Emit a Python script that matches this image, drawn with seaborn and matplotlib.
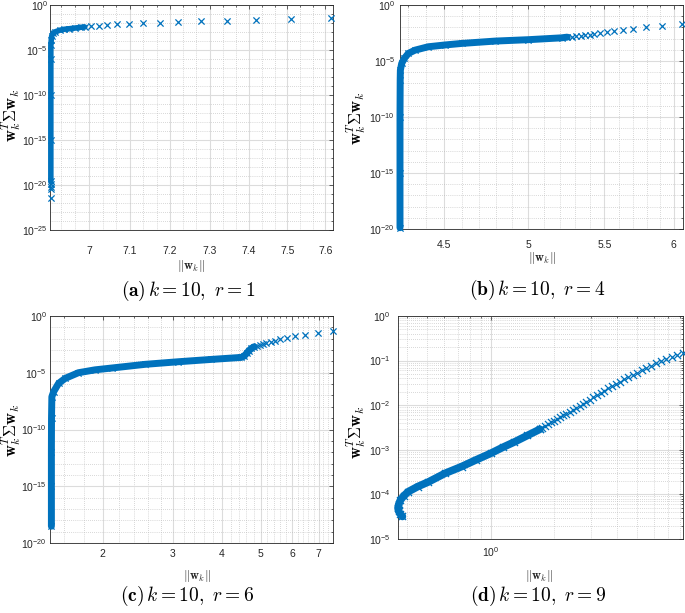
import numpy as np
import pandas as pd
import matplotlib
matplotlib.use("Agg")
import matplotlib.pyplot as plt
import seaborn as sns
from matplotlib.ticker import FixedLocator, FuncFormatter, NullFormatter, FixedFormatter

# ---------------- data ----------------
# panel (a)  k=10, r=1
a_band_x = [6.990, 6.980, 6.966, 6.952, 6.940, 6.929, 6.919, 6.913, 6.910, 6.909, 6.908, 6.908, 6.908, 6.908, 6.908]
a_band_y = [3.6e-3, 3.3e-3, 2.75e-3, 2.3e-3, 2.0e-3, 1.55e-3, 1.07e-3, 7.1e-4, 3.6e-4, 1.3e-4, 3.6e-5, 1e-6, 1e-10, 1e-15, 2.5e-20]
a_pts_x = [7.615, 7.510, 7.420, 7.344, 7.277, 7.221, 7.174, 7.134, 7.099, 7.069, 7.045, 7.024, 7.006,
           6.908, 6.908, 6.908, 6.908]
a_pts_y = [3.3e-2, 2.8e-2, 2.15e-2, 1.8e-2, 1.55e-2, 1.17e-2, 1.0e-2, 9.1e-3, 7.8e-3, 7.1e-3, 6.0e-3, 5.0e-3, 4.3e-3,
           1.3e-20, 6.3e-21, 4.0e-21, 3.2e-22]

# panel (b)  k=10, r=4
b_band_x = [5.25, 5.213, 5.0, 4.796, 4.599, 4.504, 4.410, 4.338, 4.302, 4.280, 4.266, 4.259, 4.258, 4.257, 4.257, 4.257]
b_band_y = [1.35e-3, 1.17e-3, 8.0e-4, 6.0e-4, 3.7e-4, 2.7e-4, 1.86e-4, 9.3e-5, 4.8e-5, 1.7e-5, 6e-6, 1.5e-6, 1.9e-7, 1e-10, 1e-15, 1.3e-20]
b_pts_x = [6.065, 5.911, 5.794, 5.700, 5.629, 5.568, 5.517, 5.471, 5.432, 5.40, 5.37, 5.34, 5.31, 5.28]
b_pts_y = [2.0e-2, 1.4e-2, 1.0e-2, 7.6e-3, 5.75e-3, 4.5e-3, 3.6e-3, 2.95e-3, 2.5e-3, 2.2e-3, 2.0e-3, 1.8e-3, 1.62e-3, 1.48e-3]

# panel (c)  k=10, r=6
c_band_x = [4.815, 4.743, 4.670, 4.608, 4.544, 4.476, 3.76, 3.1, 2.557, 2.107, 1.913, 1.737, 1.61, 1.549, 1.505,
            1.490, 1.487, 1.486, 1.486, 1.486]
c_band_y = [1.95e-3, 1.4e-3, 8.7e-4, 5.0e-4, 2.95e-4, 2.25e-4, 1.5e-4, 9.3e-5, 5.5e-5, 2.6e-5, 1.8e-5, 1.0e-5, 3.2e-6,
            1.15e-6, 2.1e-7, 7.6e-8, 1e-9, 1e-12, 1e-15, 3e-19]
c_pts_x = [7.605, 6.98, 6.485, 6.119, 5.819, 5.598, 5.429, 5.296, 5.174, 5.064, 4.977, 4.891]
c_pts_y = [5.0e-2, 3.4e-2, 2.24e-2, 1.62e-2, 1.15e-2, 8.7e-3, 6.6e-3, 5.4e-3, 4.4e-3, 3.55e-3, 2.95e-3, 2.4e-3]

# panel (d)  k=10, r=9
d_band_x = [1.717, 1.5, 1.3, 1.15, 1.0, 0.85, 0.727, 0.606, 0.505, 0.45, 0.405, 0.386, 0.372, 0.365, 0.362, 0.364, 0.370, 0.380]
d_band_y = [2.88e-3, 2.1e-3, 1.5e-3, 1.15e-3, 8.3e-4, 5.9e-4, 4.2e-4, 2.96e-4, 1.9e-4, 1.5e-4, 1.15e-4, 9.3e-5,
            7.5e-5, 6.0e-5, 5.0e-5, 4.3e-5, 3.7e-5, 3.2e-5]
d_pts_x = [8.265, 7.77, 7.30, 6.887, 6.495, 6.149, 5.821, 5.53, 5.254, 4.992, 4.761, 4.539, 4.329, 4.143, 3.966,
           3.795, 3.632, 3.489, 3.352, 3.220, 3.093, 2.972, 2.864, 2.761, 2.663, 2.567, 2.475, 2.386, 2.300, 2.226,
           2.154, 2.084, 2.017, 1.951, 1.888, 1.827, 1.768, 1.717]
d_pts_y = [0.1507, 0.1340, 0.1192, 0.1067, 0.0957, 0.0861, 0.0760, 0.0678, 0.0604, 0.0535, 0.0476, 0.0424, 0.0378,
           0.0337, 0.0300, 0.0267, 0.0238, 0.0213, 0.0189, 0.0168, 0.0150, 0.0133, 0.0120, 0.0108, 0.00977, 0.00881,
           0.00794, 0.00719, 0.00650, 0.00594, 0.00543, 0.00496, 0.00453, 0.00413, 0.00376, 0.00343, 0.00313, 0.00288]

a_xticks = [7.0, 7.1, 7.2, 7.3, 7.4, 7.5, 7.6]
a_xlabels = ["7", "7.1", "7.2", "7.3", "7.4", "7.5", "7.6"]
b_xticks = [4.5, 5.0, 5.5, 6.0]
b_xlabels = ["4.5", "5", "5.5", "6"]
c_xticks = [2, 3, 4, 5, 6, 7]
c_xlabels = ["2", "3", "4", "5", "6", "7"]
d_xticks = [1.0]
d_xlabels = [r"$\mathdefault{10^{0}}$"]

captions = [r"$\mathbf{(a)}\,k=10,\ r=1$", r"$\mathbf{(b)}\,k=10,\ r=4$",
            r"$\mathbf{(c)}\,k=10,\ r=6$", r"$\mathbf{(d)}\,k=10,\ r=9$"]

# ---------------- style ----------------
sns.set_style("white")
plt.rcParams['font.family'] = ['Liberation Sans', 'DejaVu Sans']
plt.rcParams['mathtext.fontset'] = 'cm'
plt.rcParams['axes.unicode_minus'] = False

BLUE = '#0072BD'
DARK = '#262626'
W, H = 685, 613
fig = plt.figure(figsize=(6.85, 6.13), dpi=100)


def px_axes(l, t, r, b):
    return fig.add_axes([l / W, 1 - b / H, (r - l) / W, (b - t) / H])


def ftext(x, y, s, **kw):
    fig.text(x / W, 1 - y / H, s, **kw)


def sci(v, p):
    return r"$\mathdefault{10^{%d}}$" % int(round(np.log10(v)))


def panel(ax, band_x, band_y, pts_x, pts_y, xlim, ylim, xt, xl, xminor, ymaj, ymin,
          band_lw, msize, xpad, ypad):
    sns.lineplot(x=band_x, y=band_y, sort=False, estimator=None, color=BLUE,
                 linewidth=band_lw, ax=ax, clip_on=False, zorder=3)
    sns.scatterplot(x=band_x + pts_x, y=band_y + pts_y, marker='x', s=msize, color=BLUE,
                    linewidth=0.9, ax=ax, clip_on=False, zorder=4)
    ax.set_xscale('log')
    ax.set_yscale('log')
    ax.set_xlim(*xlim)
    ax.set_ylim(*ylim)
    ax.xaxis.set_major_locator(FixedLocator(xt))
    ax.xaxis.set_major_formatter(FixedFormatter(xl))
    ax.xaxis.set_minor_locator(FixedLocator(xminor))
    ax.xaxis.set_minor_formatter(NullFormatter())
    ax.yaxis.set_major_locator(FixedLocator(ymaj))
    ax.yaxis.set_major_formatter(FuncFormatter(sci))
    ax.yaxis.set_minor_locator(FixedLocator(ymin))
    ax.yaxis.set_minor_formatter(NullFormatter())
    ax.set_axisbelow(True)
    ax.grid(which='major', color='#dcdcdc', linewidth=0.8, linestyle='-')
    ax.grid(which='minor', color='#b4b4b4', linewidth=0.5, linestyle=(0, (1, 2)))
    ax.tick_params(which='both', direction='in', top=True, right=True, color=DARK,
                   width=0.5, labelsize=7.5, labelcolor=DARK)
    ax.tick_params(which='major', length=3)
    ax.tick_params(which='minor', length=1.5)
    ax.tick_params(axis='x', which='both', pad=xpad)
    ax.tick_params(axis='y', which='both', pad=ypad)
    for sp in ax.spines.values():
        sp.set_color(DARK)
        sp.set_linewidth(0.6)
    ax.set_xlabel("")
    ax.set_ylabel("")


decades25 = [10.0 ** e for e in range(-25, 1) if e % 5]
decades20 = [10.0 ** e for e in range(-20, 1) if e % 5]
sub_d = [m * 10.0 ** e for e in range(-5, 0) for m in range(2, 10)]

axA = px_axes(50, 5, 333, 230)
panel(axA, a_band_x, a_band_y, a_pts_x, a_pts_y, (6.906, 7.62), (1e-25, 1),
      a_xticks, a_xlabels, [6.9 + i / 30 for i in range(0, 23)],
      [10.0 ** e for e in range(-25, 1, 5)], decades25, 4, 20, 11.5, 1.5)

axB = px_axes(400, 5, 683, 229)
panel(axB, b_band_x, b_band_y, b_pts_x, b_pts_y, (4.257, 6.07), (1e-20, 1),
      b_xticks, b_xlabels, [4.3 + i * 0.1 for i in range(0, 18)],
      [10.0 ** e for e in range(-20, 1, 5)], decades20, 5, 20, 8, 3.5)

axC = px_axes(50, 316, 333, 543)
panel(axC, c_band_x, c_band_y, c_pts_x, c_pts_y, (1.474, 7.61), (1e-20, 1),
      c_xticks, c_xlabels, [1.6, 1.8, 2.2, 2.4, 2.6, 2.8, 3.2, 3.4, 3.6, 3.8, 4.2, 4.4, 4.6, 4.8,
                            5.2, 5.4, 5.6, 5.8, 6.2, 6.4, 6.6, 6.8, 7.2, 7.4],
      [10.0 ** e for e in range(-20, 1, 5)], decades20, 5, 20, 4.5, 2.2)

axD = px_axes(398, 316, 683, 539)
panel(axD, d_band_x, d_band_y, d_pts_x, d_pts_y, (0.362, 8.27), (1e-5, 1),
      d_xticks, d_xlabels, [0.4, 0.5, 0.6, 0.7, 0.8, 0.9, 2, 3, 4, 5, 6, 7, 8],
      [10.0 ** e for e in range(-5, 1)], sub_d, 5.5, 26, 4.5, 5.5)

ylab = r"$\mathbf{w}_k^T\mathbf{\Sigma}\mathbf{w}_k$"
xlab = r"$\|\mathbf{w}_k\|$"
for (yx, yy, xx, xy, cx, cy, cap) in [(11, 115, 191, 266, 188, 291, captions[0]),
                                      (356, 118, 542, 258, 537, 290, captions[1]),
                                      (11, 430, 197, 576, 187, 596, captions[2]),
                                      (356, 432, 539, 576, 538, 596, captions[3])]:
    ftext(yx, yy, ylab, rotation=90, ha='center', va='center', fontsize=12, color='black')
    ftext(xx, xy, xlab, ha='center', va='center', fontsize=9, color=DARK)
    ftext(cx, cy, cap, ha='center', va='center', fontsize=14, color='black')

fig.savefig("out.png", dpi=100)
